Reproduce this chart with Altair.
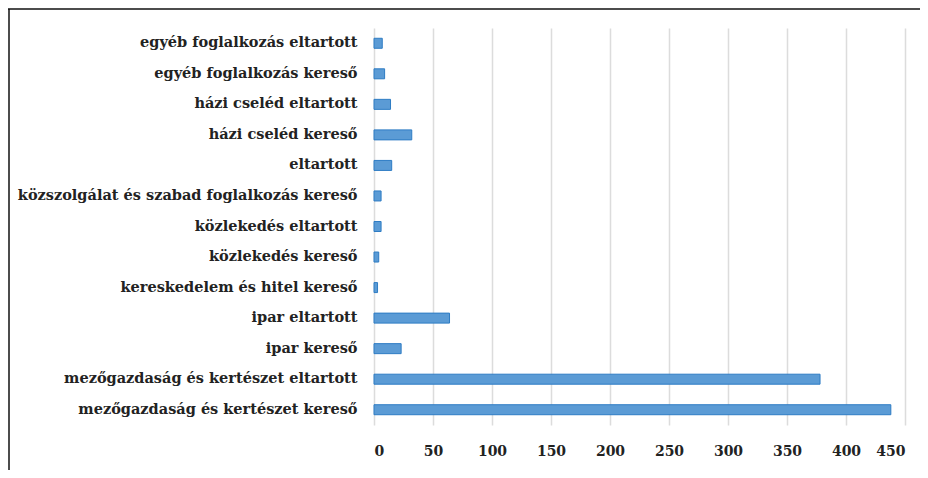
import altair as alt
import pandas as pd

categories = [
    "egyéb foglalkozás eltartott",
    "egyéb foglalkozás kereső",
    "házi cseléd eltartott",
    "házi cseléd kereső",
    "eltartott",
    "közszolgálat és szabad foglalkozás kereső",
    "közlekedés eltartott",
    "közlekedés kereső",
    "kereskedelem és hitel kereső",
    "ipar eltartott",
    "ipar kereső",
    "mezőgazdaság és kertészet eltartott",
    "mezőgazdaság és kertészet kereső",
]
values = [7, 9, 14, 32, 15, 6, 6, 4, 3, 64, 23, 378, 438]
x_ticks = [0, 50, 100, 150, 200, 250, 300, 350, 400, 450]

df = pd.DataFrame({"cat": categories, "val": values})

FONT = "DejaVu Serif"

bars = alt.Chart(df).mark_bar(
    size=10, fill="#5B9BD5", stroke="#2E7CC4", strokeWidth=1
).encode(
    x=alt.X("val:Q", scale=alt.Scale(domain=[0, 450], nice=False),
            axis=alt.Axis(values=x_ticks, title=None, domain=False, ticks=False,
                          grid=True, gridColor="#dcdcdc", gridWidth=1.5,
                          labelFont=FONT, labelFontSize=14, labelFontWeight="bold",
                          labelColor="#222", labelPadding=19)),
    y=alt.Y("cat:N", sort=categories,
            axis=alt.Axis(title=None, domain=False, ticks=False, grid=False,
                          labelFont=FONT, labelFontSize=14.5, labelFontWeight="bold",
                          labelColor="#222", labelPadding=17, labelLimit=400)),
)

frame_data = alt.Data(values=[{}])
frame_left = alt.Chart(frame_data).mark_rule(color="#111", strokeWidth=1.5).encode(
    x=alt.value(-365), y=alt.value(-19), y2=alt.value(470)
)
frame_top = alt.Chart(frame_data).mark_rule(color="#111", strokeWidth=1.5).encode(
    x=alt.value(-366), x2=alt.value(560), y=alt.value(-19)
)

chart = alt.layer(bars, frame_left, frame_top).properties(
    width=531, height=397,
    padding={"left": 366, "top": 20, "right": 15, "bottom": 45},
    autosize=alt.AutoSizeParams(type="none"),
    background="white",
).configure_view(stroke=None)

chart.save("out.html", embed_options={"renderer": "svg", "actions": False})
